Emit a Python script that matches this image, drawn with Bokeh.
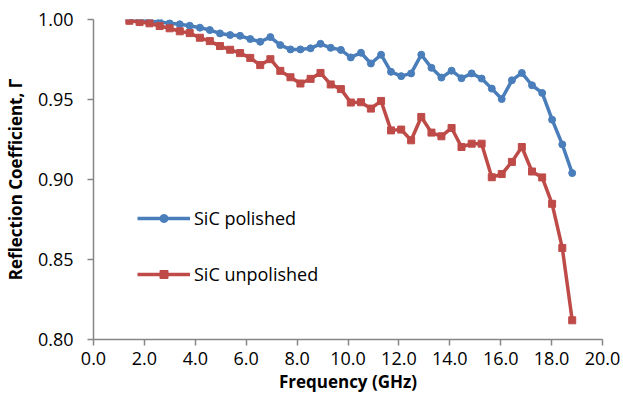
from bokeh.plotting import figure
from bokeh.models import Range1d, FixedTicker, NumeralTickFormatter, Legend, LegendItem
from bokeh.embed import file_html
from bokeh.resources import INLINE

freq_ghz = [1.41, 1.81, 2.20, 2.60, 2.99, 3.39, 3.78, 4.18, 4.57, 4.97,
            5.37, 5.76, 6.16, 6.55, 6.95, 7.34, 7.74, 8.13, 8.53, 8.92,
            9.32, 9.72, 10.11, 10.51, 10.90, 11.30, 11.69, 12.09, 12.48, 12.88,
            13.28, 13.67, 14.07, 14.46, 14.86, 15.25, 15.65, 16.04, 16.44, 16.83,
            17.23, 17.63, 18.02, 18.42, 18.81]

sic_polished = [0.9995, 0.9997, 0.9990, 0.9984, 0.9976, 0.9970, 0.9961, 0.9949, 0.9934, 0.9913,
                0.9903, 0.9898, 0.9878, 0.9861, 0.9890, 0.9840, 0.9813, 0.9813, 0.9820, 0.9848,
                0.9823, 0.9810, 0.9763, 0.9792, 0.9725, 0.9780, 0.9673, 0.9646, 0.9663, 0.9780,
                0.9698, 0.9637, 0.9680, 0.9633, 0.9663, 0.9631, 0.9568, 0.9503, 0.9620, 0.9666,
                0.9589, 0.9541, 0.9374, 0.9219, 0.9040]

sic_unpolished = [0.9992, 0.9984, 0.9976, 0.9959, 0.9945, 0.9926, 0.9915, 0.9886, 0.9865, 0.9834,
                  0.9811, 0.9790, 0.9760, 0.9715, 0.9752, 0.9679, 0.9639, 0.9600, 0.9629, 0.9666,
                  0.9594, 0.9565, 0.9481, 0.9483, 0.9443, 0.9491, 0.9307, 0.9312, 0.9245, 0.9391,
                  0.9293, 0.9270, 0.9322, 0.9203, 0.9224, 0.9224, 0.9014, 0.9034, 0.9110, 0.9203,
                  0.9050, 0.9013, 0.8848, 0.8572, 0.8120]

x_ticks = [0, 2, 4, 6, 8, 10, 12, 14, 16, 18, 20]
y_ticks = [0.80, 0.85, 0.90, 0.95, 1.00]
series_names = ["SiC polished", "SiC unpolished"]
x_label = "Frequency (GHz)"
y_label = "Reflection Coefficient, Γ"

BLUE = "#4A7EBB"
RED = "#BE4B48"
AXIS = "#868686"
FONT = "Open Sans"

p = figure(width=623, height=401, output_backend="svg", toolbar_location=None,
           x_range=Range1d(0, 20), y_range=Range1d(0.80, 1.00),
           min_border_left=92, min_border_right=21, min_border_top=19, min_border_bottom=62)
p.outline_line_color = None
p.xgrid.visible = False
p.ygrid.visible = False
p.background_fill_color = "white"
p.border_fill_color = "white"

b_line = p.line(freq_ghz, sic_polished, line_color=BLUE, line_width=3.5)
b_pts = p.scatter(freq_ghz, sic_polished, marker="circle", size=7,
                  fill_color=BLUE, line_color=BLUE)
r_line = p.line(freq_ghz, sic_unpolished, line_color=RED, line_width=3.5)
r_pts = p.scatter(freq_ghz, sic_unpolished, marker="square", size=7,
                  fill_color=RED, line_color=RED)

for ax in (p.xaxis[0], p.yaxis[0]):
    ax.axis_line_color = AXIS
    ax.axis_line_width = 1.5
    ax.major_tick_line_color = AXIS
    ax.major_tick_line_width = 1.5
    ax.major_tick_in = 0
    ax.major_tick_out = 6
    ax.minor_tick_line_color = None
    ax.major_label_text_font = FONT
    ax.major_label_text_font_size = "18px"
    ax.major_label_text_color = "black"
    ax.axis_label_text_font = FONT
    ax.axis_label_text_font_style = "bold"
    ax.axis_label_text_font_size = "17px"
    ax.axis_label_text_color = "black"

p.xaxis[0].ticker = FixedTicker(ticks=x_ticks)
p.xaxis[0].formatter = NumeralTickFormatter(format="0.0")
p.xaxis[0].axis_label = x_label
p.xaxis[0].major_label_standoff = 6
p.xaxis[0].axis_label_standoff = 2

p.yaxis[0].ticker = FixedTicker(ticks=y_ticks)
p.yaxis[0].formatter = NumeralTickFormatter(format="0.00")
p.yaxis[0].axis_label = y_label
p.yaxis[0].major_label_standoff = 14
p.yaxis[0].axis_label_standoff = 8

legend = Legend(items=[LegendItem(label=series_names[0], renderers=[b_line, b_pts]),
                       LegendItem(label=series_names[1], renderers=[r_line, r_pts])],
                location=(44, 53), orientation="vertical",
                glyph_width=53, glyph_height=20, label_height=20, label_standoff=4,
                spacing=32, padding=0, margin=0,
                border_line_color=None, background_fill_alpha=0,
                label_text_font=FONT, label_text_font_size="18px", label_text_color="black")
p.add_layout(legend, "center")

open("out.html", "w").write(file_html(p, INLINE))
